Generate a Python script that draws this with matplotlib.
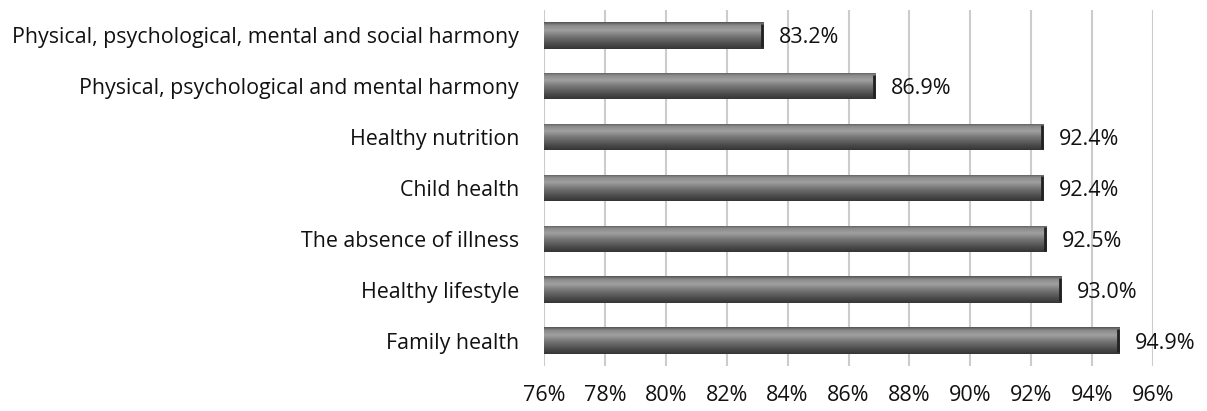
import matplotlib
matplotlib.use("Agg")
import matplotlib.pyplot as plt
import numpy as np
from matplotlib.colors import LinearSegmentedColormap

categories = ["Physical, psychological, mental and social harmony",
              "Physical, psychological and mental harmony",
              "Healthy nutrition",
              "Child health",
              "The absence of illness",
              "Healthy lifestyle",
              "Family health"]
values = [83.2, 86.9, 92.4, 92.4, 92.5, 93.0, 94.9]
xticks = [76, 78, 80, 82, 84, 86, 88, 90, 92, 94, 96]

plt.rcParams['font.family'] = ['Open Sans', 'DejaVu Sans']

fig = plt.figure(figsize=(12.07, 4.11), dpi=100)
ax = fig.add_axes([0.4507, 0.1095, 0.5046, 0.8662])

y = np.arange(len(categories))
h = 0.52
bars = ax.barh(y, [v - 76 for v in values], left=76, height=h, color='none', edgecolor='none', zorder=3)

cmap = LinearSegmentedColormap.from_list('g', [
    (0.0, '#555555'), (0.12, '#8c8c8c'), (0.3, '#a0a0a0'), (0.5, '#7a7a7a'),
    (0.8, '#4e4e4e'), (1.0, '#353535')])
grad = np.linspace(0, 1, 64).reshape(-1, 1)
for b, v, yi in zip(bars, values, y):
    im = ax.imshow(grad, cmap=cmap, aspect='auto', extent=(76, v, yi + h / 2, yi - h / 2),
                   zorder=3, interpolation='bilinear')
    im.set_clip_path(b)
    ax.plot([v - 0.05, v - 0.05], [yi - h / 2 + 0.03, yi + h / 2 - 0.03], color='#222222', lw=2, zorder=4,
            solid_capstyle='butt')
    ax.text(v + 0.5, yi + 0.05, f"{v:.1f}%", va='center', ha='left', fontsize=15.5, color='#111111')

ax.set_xlim(76, 96)
ax.set_ylim(len(categories) - 0.5, -0.5)
ax.set_xticks(xticks)
ax.set_xticklabels([f"{t}%" for t in xticks], fontsize=15.5, color='#111111')
ax.set_yticks(y)
ax.set_yticklabels(categories, fontsize=15.4, color='#111111')
ax.tick_params(length=0, pad=18, axis='y')
ax.tick_params(length=0, pad=14, axis='x')
ax.grid(axis='x', color='#cccccc', lw=1.5, zorder=0)
for s in ax.spines.values():
    s.set_visible(False)
ax.set_axisbelow(True)

fig.savefig("out.png", dpi=100)
